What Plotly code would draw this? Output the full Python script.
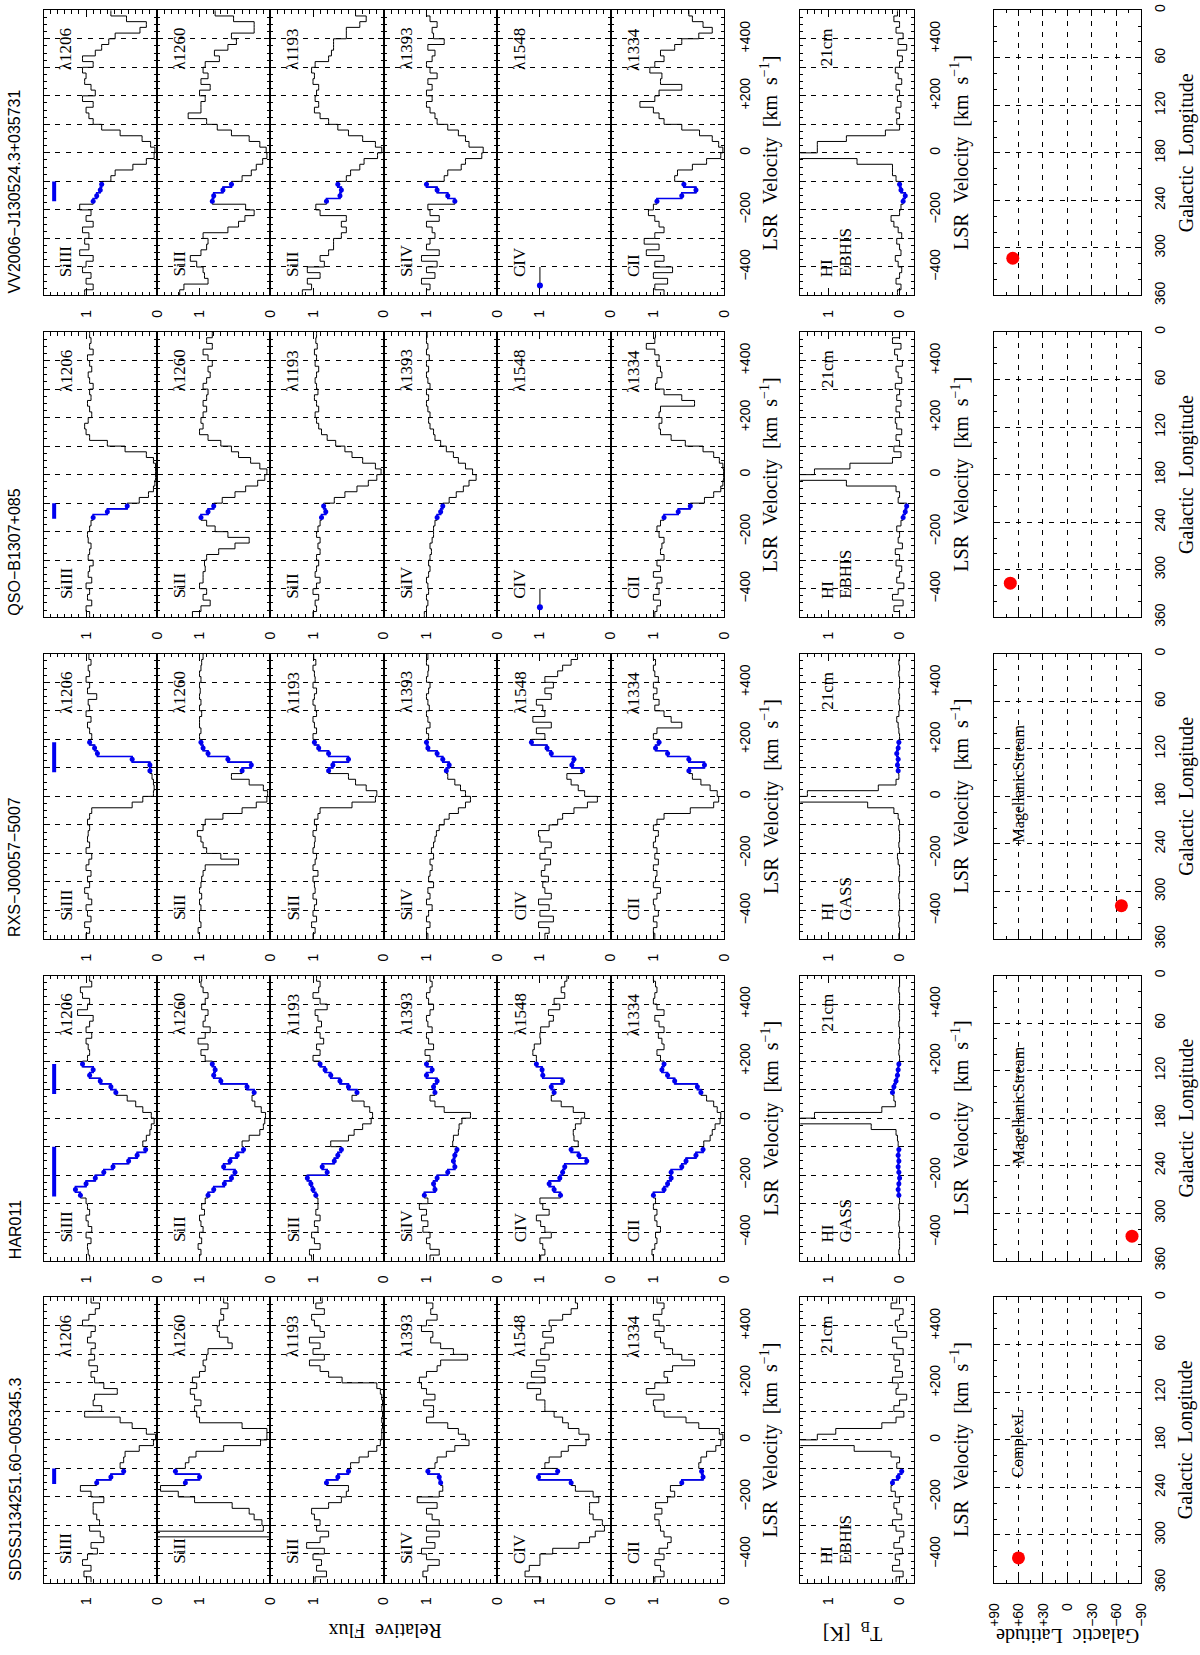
import plotly.graph_objects as go

W, H = 1200, 1655

# ---------------- data ----------------
sightlines = ["VV2006\u2212J130524.3+035731", "QSO\u2212B1307+085", "RXS\u2212J00057\u22125007",
              "HAR011", "SDSSJ134251.60\u2212005345.3"]
ion_labels = ["SiIII", "SiII", "SiII", "SiIV", "CIV", "CII"]
wave_labels = ["\u03bb1206", "\u03bb1260", "\u03bb1193", "\u03bb1393", "\u03bb1548", "\u03bb1334"]
hi_survey = ["EBHIS", "EBHIS", "GASS", "GASS", "EBHIS"]
map_label = ["", "", "MagellanicStream", "MagellanicStream", "ComplexL"]
map_label_l = [None, None, 163, 163, 184]
map_label_b = 60
gal_l = [313, 317, 318, 329, 329]
gal_b = [67, 70, -66, -79, 60]
blue_ranges = [[(-170, -100)], [(-155, -100)], [(85, 190)], [(85, 190), (-275, -100)], [(-155, -100)]]
bar_flux = 1.45
civ_flag = [True, True, False, False, False]
civ_flag_v = [-465, -400]
civ_flag_f = [1.0, 1.0]

velocity = [-490, -470, -450, -430, -410, -390, -370, -350, -330, -310,
            -290, -270, -250, -230, -210, -190, -170, -150, -130, -110,
            -90, -70, -50, -30, -10, 10, 30, 50, 70, 90,
            110, 130, 150, 170, 190, 210, 230, 250, 270, 290,
            310, 330, 350, 370, 390, 410, 430, 450, 470, 490]

vel_ticks = [-400, -300, -200, -100, 0, 100, 200, 300, 400]
vel_ticktext = ["\u2212400", " ", "\u2212200", " ", "0", " ", "+200", " ", "+400"]
lon_ticks = [0, 60, 120, 180, 240, 300, 360]
lon_ticktext = ["0", "60", "120", "180", "240", "300", "360"]
lat_ticks = [90, 60, 30, 0, -30, -60, -90]
lat_ticktext = ["+90", "+60", "+30", "0", "\u221230", "\u221260", "\u221290"]

# VV2006-J130524.3+035731
VV_SiIII = [1.02, 0.9, 1.0, 0.93, 1.05, 1.0, 0.9, 1.09, 0.96, 1.02,
            0.96, 1.05, 0.9, 1.0, 0.93, 1.09, 0.9, 0.85, 0.8, 0.78,
            0.65, 0.59, 0.34, 0.15, 0.04, 0.03, 0.09, 0.21, 0.52, 0.78,
            0.9, 0.96, 1.0, 0.9, 1.05, 0.87, 0.93, 1.02, 1.0, 1.05,
            0.9, 1.05, 0.87, 0.78, 0.68, 0.59, 0.24, 0.15, 0.43, 0.65]
VV_SiII1260 = [1.28, 1.22, 0.88, 0.93, 0.95, 1.04, 1.13, 0.98, 0.9, 0.88,
               0.95, 0.6, 0.45, 0.36, 0.23, 0.35, 0.82, 0.8, 0.67, 0.55,
               0.4, 0.27, 0.2, 0.11, 0.05, 0.06, 0.15, 0.3, 0.55, 0.75,
               0.9, 1.16, 0.98, 0.98, 0.92, 1.0, 0.85, 0.98, 0.88, 0.95,
               0.92, 0.72, 0.79, 0.6, 0.48, 0.55, 0.23, 0.23, 0.52, 0.78]
VV_SiII1193 = [1.15, 1.02, 1.08, 0.9, 1.08, 0.84, 0.9, 0.78, 0.71, 0.71,
               0.6, 0.53, 0.6, 0.53, 0.9, 0.96, 0.81, 0.62, 0.6, 0.65,
               0.53, 0.47, 0.34, 0.28, 0.09, 0.03, 0.12, 0.3, 0.5, 0.65,
               0.78, 0.9, 0.98, 0.92, 0.97, 0.95, 0.92, 1.0, 0.98, 1.02,
               0.97, 0.78, 0.74, 0.71, 0.71, 0.53, 0.53, 0.34, 0.25, 0.4]
VV_SiIV = [1.0, 0.95, 1.07, 0.88, 1.0, 0.85, 1.07, 0.82, 1.0, 0.95,
           0.88, 0.92, 1.0, 0.82, 0.95, 0.98, 0.6, 0.7, 0.85, 1.0,
           0.75, 0.7, 0.51, 0.45, 0.22, 0.2, 0.4, 0.45, 0.55, 0.7,
           0.85, 0.88, 0.95, 1.0, 0.92, 1.0, 0.92, 0.98, 0.85, 0.95,
           1.0, 0.92, 0.88, 0.98, 0.75, 0.9, 0.92, 0.85, 0.95, 1.0]
VV_CIV = None
VV_CII = [0.85, 0.98, 0.8, 1.0, 0.73, 0.98, 0.85, 1.1, 0.92, 1.13,
          0.98, 0.85, 0.92, 0.98, 1.07, 1.0, 0.95, 0.6, 0.4, 0.57,
          0.7, 0.66, 0.45, 0.25, 0.05, 0.02, 0.08, 0.17, 0.35, 0.6,
          0.85, 0.92, 1.0, 1.19, 0.98, 0.92, 0.6, 0.9, 0.88, 1.05,
          0.98, 0.85, 0.9, 0.7, 0.6, 0.36, 0.17, 0.3, 0.45, 0.5]
VV_HI = [0.03, -0.02, 0.05, 0.0, -0.03, 0.02, 0.06, -0.02, 0.0, 0.04,
         -0.03, 0.02, 0.08, 0.12, 0.0, -0.02, -0.05, -0.08, -0.02, 0.0,
         0.05, 0.1, 0.1, 0.6, 5.0, 1.16, 1.16, 0.75, 0.2, 0.0,
         0.04, 0.0, 0.05, -0.02, 0.03, 0.0, 0.05, -0.03, 0.02, 0.06,
         0.0, -0.04, 0.03, -0.1, 0.02, -0.05, 0.05, 0.0, 0.08, 0.03]

# QSO-B1307+085
QSO_SiIII = [0.95, 1.0, 0.92, 0.98, 0.95, 1.0, 0.92, 0.97, 0.95, 0.9,
             0.97, 0.95, 0.93, 0.97, 0.98, 0.95, 0.93, 0.9, 0.7, 0.42,
             0.25, 0.12, 0.05, 0.03, 0.02, 0.02, 0.02, 0.05, 0.15, 0.45,
             0.7, 0.95, 1.0, 1.02, 0.97, 0.92, 0.95, 0.98, 0.93, 0.95,
             0.9, 0.95, 0.97, 0.92, 0.95, 0.98, 0.9, 0.95, 0.93, 0.95]
QSO_SiII1260 = [1.1, 0.98, 0.85, 0.95, 0.9, 1.0, 0.95, 0.95, 0.92, 0.93,
                0.9, 0.73, 0.5, 0.3, 0.6, 0.78, 0.9, 0.98, 0.88, 0.8,
                0.68, 0.5, 0.35, 0.18, 0.08, 0.05, 0.15, 0.28, 0.45, 0.55,
                0.7, 0.88, 1.0, 0.95, 0.98, 0.95, 0.9, 0.95, 0.9, 0.88,
                0.95, 0.9, 0.85, 0.88, 0.82, 0.88, 0.95, 0.82, 0.9, 0.82]
QSO_SiII1193 = [1.0, 0.95, 0.97, 0.92, 1.0, 0.95, 0.9, 0.97, 0.95, 0.92,
                0.95, 0.9, 0.93, 0.9, 0.95, 0.93, 0.9, 0.88, 0.82, 0.85,
                0.7, 0.55, 0.38, 0.22, 0.1, 0.04, 0.12, 0.3, 0.45, 0.55,
                0.68, 0.8, 0.88, 0.92, 0.95, 0.97, 0.92, 0.95, 0.98, 0.93,
                0.95, 0.97, 0.95, 0.92, 0.97, 0.95, 0.98, 0.94, 0.96, 0.95]
QSO_SiIV = [1.03, 1.0, 0.98, 1.0, 0.97, 0.98, 1.0, 0.97, 0.95, 0.97,
            0.95, 0.93, 0.95, 0.92, 0.9, 0.9, 0.88, 0.85, 0.8, 0.77,
            0.68, 0.58, 0.48, 0.4, 0.3, 0.35, 0.45, 0.55, 0.62, 0.72,
            0.8, 0.88, 0.9, 0.95, 0.97, 0.95, 0.98, 1.0, 0.97, 1.0,
            0.95, 0.98, 1.0, 0.97, 1.0, 0.96, 1.0, 0.98, 1.0, 0.99]
QSO_CIV = None
QSO_CII = [0.98, 0.95, 0.9, 1.0, 0.92, 0.95, 0.88, 1.0, 0.9, 0.95,
           0.85, 0.9, 0.88, 0.85, 0.92, 0.95, 0.9, 0.85, 0.65, 0.48,
           0.28, 0.15, 0.05, 0.02, 0.01, 0.01, 0.02, 0.07, 0.15, 0.3,
           0.55, 0.75, 0.9, 0.92, 0.88, 0.92, 0.9, 0.42, 0.6, 0.85,
           0.97, 0.95, 0.88, 0.9, 0.95, 0.92, 0.98, 1.1, 0.98, 0.97]
QSO_HI = [0.0, 0.08, -0.05, 0.1, 0.02, -0.06, 0.04, 0.0, -0.03, 0.05,
          0.0, 0.06, -0.04, 0.02, 0.0, 0.04, -0.02, -0.05, -0.08, -0.1,
          0.02, 0.0, 0.05, 0.75, 5.0, 1.2, 0.7, 0.1, -0.02, 0.08,
          0.0, 0.05, -0.03, 0.04, 0.06, 0.0, 0.05, -0.02, 0.04, 0.0,
          0.06, -0.03, 0.02, 0.05, -0.04, 0.03, 0.07, -0.02, 0.1, 0.0]

# RXS-J00057-5007
RXS_SiIII = [1.0, 0.95, 1.02, 0.93, 0.98, 1.0, 0.92, 0.97, 1.02, 0.95,
             0.98, 0.93, 1.0, 0.96, 0.92, 1.0, 0.95, 0.98, 0.97, 0.95,
             0.98, 0.95, 0.92, 0.35, 0.2, 0.05, 0.04, 0.05, 0.07, 0.1,
             0.1, 0.35, 0.84, 0.88, 0.95, 0.92, 0.95, 0.98, 0.93, 1.0,
             0.95, 0.97, 0.85, 0.98, 0.95, 1.0, 0.95, 0.97, 0.93, 0.96]
RXS_SiII1260 = [1.0, 1.02, 0.98, 1.0, 1.0, 0.98, 1.0, 0.97, 1.0, 0.98,
                0.97, 0.95, 0.92, 0.45, 0.7, 0.9, 0.95, 0.98, 1.03, 0.95,
                0.92, 0.67, 0.4, 0.2, 0.05, 0.04, 0.1, 0.3, 0.55, 0.4,
                0.27, 0.6, 0.88, 0.95, 0.98, 1.0, 0.98, 1.0, 1.0, 0.97,
                1.0, 0.98, 1.0, 0.99, 1.0, 0.98, 1.0, 0.98, 0.97, 0.95]
RXS_SiII1193 = [1.0, 0.97, 1.02, 0.95, 1.0, 0.98, 0.95, 1.0, 0.97, 0.98,
                1.0, 0.93, 1.0, 0.97, 0.95, 1.0, 0.98, 0.97, 1.0, 0.95,
                0.98, 0.93, 0.9, 0.45, 0.12, 0.1, 0.25, 0.4, 0.5, 0.78,
                0.72, 0.5, 0.78, 0.92, 0.98, 1.0, 0.95, 0.98, 1.0, 0.95,
                0.97, 1.0, 0.98, 0.95, 1.0, 0.97, 0.98, 1.0, 0.96, 0.99]
RXS_SiIV = [0.98, 1.0, 0.95, 1.0, 0.97, 0.92, 1.0, 0.95, 0.98, 0.9,
            0.97, 0.95, 0.92, 0.95, 0.9, 0.93, 0.9, 0.88, 0.86, 0.82,
            0.75, 0.68, 0.55, 0.45, 0.38, 0.45, 0.52, 0.6, 0.7, 0.72,
            0.68, 0.77, 0.85, 0.98, 1.0, 0.97, 1.0, 0.95, 0.98, 1.0,
            0.96, 0.98, 1.0, 0.97, 0.95, 1.0, 0.98, 0.97, 1.0, 0.98]
RXS_CIV = [0.93, 0.87, 1.02, 0.81, 1.0, 0.87, 1.02, 0.84, 0.93, 0.96,
           0.88, 0.98, 0.93, 0.85, 1.0, 0.93, 0.84, 1.0, 1.02, 0.87,
           0.75, 0.68, 0.52, 0.33, 0.19, 0.37, 0.46, 0.56, 0.62, 0.4,
           0.55, 0.52, 0.84, 0.9, 1.12, 0.93, 1.05, 0.84, 1.1, 0.93,
           0.96, 1.05, 0.84, 0.93, 0.81, 0.93, 0.75, 0.68, 0.56, 0.47]
RXS_CII = [0.98, 1.0, 0.95, 1.0, 0.93, 0.98, 1.0, 0.95, 0.9, 1.0,
           0.97, 0.95, 1.0, 0.93, 0.98, 0.95, 1.0, 0.97, 0.93, 1.0,
           0.95, 0.85, 0.48, 0.15, 0.08, 0.1, 0.2, 0.33, 0.45, 0.5,
           0.28, 0.5, 0.8, 0.97, 0.92, 1.0, 0.95, 0.6, 0.75, 0.85,
           0.98, 0.92, 1.0, 0.95, 1.0, 0.93, 0.98, 1.0, 0.97, 1.0]
RXS_HI = [0.01, 0.0, 0.01, 0.0, 0.01, 0.0, 0.0, 0.01, 0.0, 0.0,
          0.01, 0.0, 0.0, 0.02, 0.03, 0.0, 0.01, 0.0, 0.0, 0.01,
          0.0, 0.02, 0.08, 0.45, 5.0, 1.3, 0.3, 0.05, 0.01, 0.02,
          0.03, 0.02, 0.04, 0.02, 0.01, 0.0, 0.01, 0.02, 0.04, 0.01,
          0.0, 0.01, 0.0, 0.01, 0.0, 0.0, 0.01, 0.0, 0.01, 0.0]

# HAR011
HAR_SiIII = [0.95, 0.97, 0.98, 0.93, 1.0, 0.92, 0.97, 1.0, 0.95, 0.98,
             1.0, 1.08, 1.15, 1.0, 0.87, 0.75, 0.62, 0.4, 0.28, 0.16,
             0.2, 0.15, 0.1, 0.08, 0.04, 0.08, 0.2, 0.3, 0.42, 0.58,
             0.65, 0.8, 0.95, 0.9, 1.05, 0.98, 0.95, 0.97, 1.0, 0.92,
             1.0, 0.95, 0.9, 1.12, 0.98, 0.95, 1.05, 1.08, 0.92, 0.95]
HAR_SiII1260 = [1.0, 0.98, 1.02, 0.97, 1.0, 0.95, 0.98, 1.0, 0.93, 0.97,
                0.92, 0.88, 0.8, 0.65, 0.55, 0.5, 0.66, 0.57, 0.47, 0.38,
                0.4, 0.3, 0.15, 0.1, 0.08, 0.07, 0.13, 0.22, 0.26, 0.23,
                0.33, 0.7, 0.8, 0.78, 0.82, 0.92, 0.98, 0.88, 1.02, 0.92,
                0.85, 0.95, 0.92, 0.88, 0.97, 0.92, 0.88, 0.95, 0.98, 0.97]
HAR_SiII1193 = [1.02, 1.05, 0.9, 0.98, 1.02, 0.93, 0.98, 0.9, 0.96, 0.93,
                0.93, 0.96, 1.0, 1.03, 1.08, 0.8, 0.87, 0.7, 0.65, 0.6,
                0.75, 0.5, 0.42, 0.3, 0.18, 0.16, 0.2, 0.28, 0.45, 0.38,
                0.5, 0.62, 0.75, 0.83, 0.9, 1.0, 0.9, 0.95, 0.85, 0.9,
                0.95, 0.88, 0.93, 0.97, 0.8, 0.9, 1.0, 0.92, 0.9, 0.95]
HAR_SiIV = [0.95, 0.82, 0.95, 1.0, 0.95, 1.05, 0.98, 1.07, 1.0, 1.1,
            0.98, 1.03, 0.88, 0.9, 0.85, 0.7, 0.6, 0.62, 0.6, 0.57,
            0.63, 0.62, 0.55, 0.54, 0.5, 0.38, 0.75, 0.88, 0.95, 0.88,
            0.9, 0.85, 1.0, 0.92, 1.0, 0.95, 1.02, 0.9, 0.97, 1.0,
            0.92, 0.98, 1.0, 0.95, 0.9, 0.97, 1.0, 0.95, 0.92, 0.95]
HAR_CIV = [0.99, 0.93, 0.96, 1.0, 0.84, 0.93, 0.99, 1.05, 0.87, 0.96,
           1.0, 0.71, 0.8, 0.87, 0.72, 0.68, 0.65, 0.34, 0.45, 0.56,
           0.46, 0.52, 0.53, 0.5, 0.42, 0.37, 0.53, 0.7, 0.84, 0.8,
           0.84, 0.68, 0.96, 0.97, 1.05, 1.05, 1.1, 1.08, 0.99, 1.0,
           0.99, 0.87, 0.81, 0.88, 0.72, 0.8, 0.65, 0.7, 0.65, 0.62]
HAR_CII = [1.0, 1.02, 0.98, 0.95, 0.97, 0.9, 0.95, 0.98, 0.95, 1.0,
           0.97, 1.0, 0.85, 0.8, 0.75, 0.75, 0.6, 0.54, 0.4, 0.3,
           0.29, 0.2, 0.17, 0.13, 0.06, 0.05, 0.1, 0.15, 0.25, 0.33,
           0.38, 0.7, 0.8, 0.88, 0.85, 0.9, 0.95, 0.85, 0.88, 0.93,
           0.85, 0.92, 0.98, 0.85, 0.95, 1.0, 0.98, 0.95, 0.97, 1.0]
HAR_HI = [0.0, 0.01, 0.0, 0.0, 0.01, 0.0, 0.01, 0.0, 0.0, 0.01,
          0.0, 0.01, 0.02, 0.01, 0.0, 0.01, 0.02, 0.01, 0.02, 0.01,
          0.02, 0.03, 0.05, 0.4, 5.0, 1.2, 0.25, 0.06, 0.08, 0.1,
          0.08, 0.05, 0.03, 0.02, 0.01, 0.0, 0.01, 0.0, 0.01, 0.0,
          0.0, 0.01, 0.0, 0.0, 0.01, 0.0, 0.0, 0.01, 0.0, 0.0]

# SDSSJ134251.60-005345.3
SDSS_SiIII = [0.93, 1.03, 0.93, 1.05, 0.98, 0.84, 0.93, 0.75, 0.8, 0.95,
              0.81, 0.85, 0.9, 0.9, 0.75, 0.93, 1.08, 0.85, 0.65, 0.47,
              0.52, 0.47, 0.45, 0.25, 0.05, 0.02, 0.15, 0.35, 0.52, 1.02,
              0.78, 0.9, 0.88, 0.56, 0.75, 0.88, 0.93, 0.84, 0.96, 0.88,
              0.93, 0.87, 0.98, 0.93, 0.87, 1.05, 0.96, 0.87, 0.81, 0.93]
SDSS_SiII1260 = [-0.5, -0.5, -0.5, -0.5, -0.5, -0.5, -0.5, -0.5, 3.0, 0.1,
                 0.12, 0.23, 0.3, 0.54, 1.07, 1.3, 1.55, 1.2, 1.0, 1.34,
                 1.2, 1.15, 1.05, 0.66, 0.14, 0.05, 0.05, 0.4, 1.0, 1.04,
                 1.07, 0.98, 1.07, 1.13, 1.04, 1.1, 1.0, 0.92, 0.95, 0.9,
                 0.88, 0.54, 0.6, 0.72, 0.75, 0.72, 0.66, 0.7, 0.6, 0.66]
SDSS_SiII1193 = [0.97, 0.81, 0.95, 0.88, 1.0, 0.84, 1.09, 0.9, 0.78, 0.95,
                 0.9, 0.98, 1.02, 0.78, 0.6, 0.53, 0.5, 0.81, 0.65, 0.5,
                 0.47, 0.35, 0.22, 0.1, 0.05, 0.03, 0.03, 0.02, 0.03, 0.02,
                 0.03, 0.02, 0.03, 0.05, 0.1, 0.59, 0.78, 0.9, 1.05, 0.84,
                 1.0, 0.9, 1.05, 0.84, 0.9, 0.98, 1.02, 0.84, 0.96, 0.87]
SDSS_SiIV = [1.0, 1.05, 0.98, 0.82, 1.0, 1.07, 0.88, 1.0, 0.82, 1.0,
             0.82, 0.92, 1.0, 0.85, 1.13, 0.82, 0.77, 0.8, 0.82, 0.98,
             0.88, 0.85, 0.72, 0.6, 0.4, 0.45, 0.55, 0.7, 1.0, 0.9,
             0.9, 1.04, 0.88, 1.0, 1.07, 1.1, 1.0, 0.85, 0.8, 0.42,
             0.62, 0.8, 0.94, 0.91, 1.07, 1.0, 0.85, 0.94, 0.91, 1.0]
SDSS_CIV = [0.99, 1.21, 1.15, 1.0, 1.0, 0.82, 0.45, 0.3, 0.22, 0.09,
            0.12, 0.25, 0.3, 0.3, 0.17, 0.25, 0.5, 0.56, 1.02, 0.75,
            0.93, 0.87, 0.7, 0.6, 0.35, 0.31, 0.45, 0.6, 0.68, 0.8,
            0.93, 0.93, 1.05, 0.99, 1.18, 0.93, 1.12, 0.93, 1.05, 0.87,
            0.99, 0.93, 0.81, 0.96, 0.84, 0.87, 0.68, 0.56, 0.47, 0.5]
SDSS_CII = [0.98, 0.85, 0.9, 0.98, 0.85, 0.92, 0.8, 0.75, 0.85, 0.9,
            0.92, 0.98, 0.88, 0.97, 0.8, 0.7, 0.76, 0.6, 0.3, 0.32,
            0.36, 0.33, 0.25, 0.12, 0.05, 0.02, 0.07, 0.36, 0.54, 0.85,
            0.98, 1.0, 0.85, 1.1, 0.98, 0.8, 0.85, 0.73, 0.42, 0.6,
            0.73, 0.85, 0.9, 0.98, 0.85, 0.92, 1.0, 0.88, 0.85, 0.95]
SDSS_HI = [0.05, -0.05, 0.1, 0.0, 0.06, -0.04, 0.08, 0.0, -0.06, 0.05,
           0.1, -0.03, 0.04, 0.08, 0.0, 0.06, 0.12, 0.1, 0.02, -0.03,
           0.04, 0.0, 0.12, 0.64, 5.0, 1.16, 0.9, 0.25, 0.05, -0.06,
           0.08, 0.0, -0.1, 0.05, 0.02, 0.1, -0.04, 0.06, 0.0, 0.08,
           -0.05, 0.04, 0.1, -0.1, 0.03, 0.06, 0.0, -0.05, 0.12, 0.04]

spectra = [
    [VV_SiIII, VV_SiII1260, VV_SiII1193, VV_SiIV, VV_CIV, VV_CII],
    [QSO_SiIII, QSO_SiII1260, QSO_SiII1193, QSO_SiIV, QSO_CIV, QSO_CII],
    [RXS_SiIII, RXS_SiII1260, RXS_SiII1193, RXS_SiIV, RXS_CIV, RXS_CII],
    [HAR_SiIII, HAR_SiII1260, HAR_SiII1193, HAR_SiIV, HAR_CIV, HAR_CII],
    [SDSS_SiIII, SDSS_SiII1260, SDSS_SiII1193, SDSS_SiIV, SDSS_CIV, SDSS_CII],
]
hi_spectra = [VV_HI, QSO_HI, RXS_HI, HAR_HI, SDSS_HI]

# ---------------- geometry (pixels) ----------------
STRIP_TOP = [4.3 + 324.9 * s for s in range(5)]
STRIP_H = 288.0
ABS_X0, ABS_W = 36.0, 115.0
HI_X = (803.0, 918.0)
MAP_X = (999.3, 1148.3)

SANS = "Liberation Sans"
SERIF = "Liberation Serif"
BLUE = "#0000f0"
SP = "\u00a0\u00a0"


def px(x):
    return x / W


def py(y):
    return 1 - y / H


fig = go.Figure()
layout = {}
annotations = []

axis_common = dict(showline=True, linecolor="black", linewidth=1, mirror="allticks",
                   ticks="inside", tickcolor="black", tickwidth=1, zeroline=False,
                   fixedrange=True, showgrid=False,
                   tickfont=dict(family=SANS, size=14, color="black"))


def vel_axis(dom, show_labels):
    d = dict(axis_common)
    d.update(domain=dom, range=[-500, 500], tickmode="array", tickvals=vel_ticks,
             ticktext=vel_ticktext, ticklen=6, showgrid=True, gridcolor="black",
             gridwidth=1, griddash="5px,6px", showticklabels=show_labels, side="right",
             tickangle=-90, ticklabelstandoff=8,
             minor=dict(ticks="inside", ticklen=3, tickcolor="black", dtick=25, tick0=0,
                        showgrid=False))
    return d


def strip_line(xs_flux, ys_vel):
    return [xs_flux[0]] + list(xs_flux) + [xs_flux[-1]], [-500] + list(ys_vel) + [500]


idx = 0
for s in range(5):
    top = STRIP_TOP[s]
    bot = top + STRIP_H
    ydom = [py(bot), py(top)]
    # ---- absorption panels
    for k in range(6):
        idx += 1
        xa = "xaxis" if idx == 1 else f"xaxis{idx}"
        ya = "yaxis" if idx == 1 else f"yaxis{idx}"
        xr = "x" if idx == 1 else f"x{idx}"
        yr = "y" if idx == 1 else f"y{idx}"
        x0 = ABS_X0 + ABS_W * k
        d = dict(axis_common)
        d.update(domain=[px(x0), px(x0 + ABS_W)], range=[1.6, 0], anchor=yr,
                 tickmode="array", tickvals=[0, 1], ticktext=["0", "1"], ticklen=7,
                 tickangle=-90, ticklabelstandoff=8,
                 minor=dict(ticks="inside", ticklen=3.5, tickcolor="black", dtick=0.1,
                            tick0=0, showgrid=False))
        layout[xa] = d
        yd = vel_axis(ydom, k == 5)
        yd["anchor"] = xr
        layout[ya] = yd

        f = spectra[s][k]
        if f is not None:
            xs, ys = strip_line(f, velocity)
            fig.add_trace(go.Scatter(x=xs, y=ys, xaxis=xr, yaxis=yr, mode="lines",
                                     line=dict(color="black", width=1, shape="vhv"),
                                     hoverinfo="skip", showlegend=False))
            for (lo, hi) in blue_ranges[s]:
                bx = [f[i] for i in range(len(velocity)) if lo <= velocity[i] <= hi]
                by = [v for v in velocity if lo <= v <= hi]
                fig.add_trace(go.Scatter(x=bx, y=by, xaxis=xr, yaxis=yr, mode="lines+markers",
                                         line=dict(color=BLUE, width=1.6, shape="vhv"),
                                         marker=dict(color=BLUE, size=5),
                                         hoverinfo="skip", showlegend=False))
        elif civ_flag[s]:
            fig.add_trace(go.Scatter(x=civ_flag_f, y=civ_flag_v, xaxis=xr, yaxis=yr, mode="lines",
                                     line=dict(color="black", width=1), hoverinfo="skip",
                                     showlegend=False))
            fig.add_trace(go.Scatter(x=civ_flag_f[:1], y=civ_flag_v[:1], xaxis=xr, yaxis=yr,
                                     mode="markers", marker=dict(color=BLUE, size=6),
                                     hoverinfo="skip", showlegend=False))
        if k == 0:
            for (lo, hi) in blue_ranges[s]:
                fig.add_trace(go.Scatter(x=[bar_flux, bar_flux], y=[lo, hi], xaxis=xr, yaxis=yr,
                                         mode="lines", line=dict(color=BLUE, width=4),
                                         hoverinfo="skip", showlegend=False))
        annotations.append(dict(text=ion_labels[k], xref=xr, yref=yr, x=1.28, y=-442,
                                xanchor="center", yanchor="bottom", textangle=-90,
                                showarrow=False, font=dict(family=SERIF, size=17, color="black")))
        annotations.append(dict(text=wave_labels[k], xref=xr, yref=yr, x=1.28, y=445,
                                xanchor="center", yanchor="top", textangle=-90,
                                showarrow=False, font=dict(family=SERIF, size=17, color="black")))

    # ---- HI panel
    idx += 1
    xa, ya, xr, yr = f"xaxis{idx}", f"yaxis{idx}", f"x{idx}", f"y{idx}"
    d = dict(axis_common)
    d.update(domain=[px(HI_X[0]), px(HI_X[1])], range=[1.4, -0.2], anchor=yr,
             tickmode="array", tickvals=[0, 1], ticktext=["0", "1"], ticklen=7,
             tickangle=-90, ticklabelstandoff=8,
             minor=dict(ticks="inside", ticklen=3.5, tickcolor="black", dtick=0.1, tick0=0,
                        showgrid=False))
    layout[xa] = d
    yd = vel_axis(ydom, True)
    yd["anchor"] = xr
    layout[ya] = yd
    hf = hi_spectra[s]
    xs, ys = strip_line(hf, velocity)
    fig.add_trace(go.Scatter(x=xs, y=ys, xaxis=xr, yaxis=yr, mode="lines",
                             line=dict(color="black", width=1, shape="vhv"),
                             hoverinfo="skip", showlegend=False))
    for (lo, hi) in blue_ranges[s]:
        bx = [hf[i] for i in range(len(velocity)) if lo <= velocity[i] <= hi]
        by = [v for v in velocity if lo <= v <= hi]
        fig.add_trace(go.Scatter(x=bx, y=by, xaxis=xr, yaxis=yr, mode="lines+markers",
                                 line=dict(color=BLUE, width=1.6, shape="vhv"),
                                 marker=dict(color=BLUE, size=5),
                                 hoverinfo="skip", showlegend=False))
    annotations.append(dict(text="HI", xref=xr, yref=yr, x=1.02, y=-442, xanchor="center",
                            yanchor="bottom", textangle=-90, showarrow=False,
                            font=dict(family=SERIF, size=17, color="black")))
    annotations.append(dict(text=hi_survey[s], xref=xr, yref=yr, x=0.76, y=-442, xanchor="center",
                            yanchor="bottom", textangle=-90, showarrow=False,
                            font=dict(family=SERIF, size=17, color="black")))
    annotations.append(dict(text="21cm", xref=xr, yref=yr, x=1.02, y=445, xanchor="center",
                            yanchor="top", textangle=-90, showarrow=False,
                            font=dict(family=SERIF, size=17, color="black")))

    # ---- map panel
    idx += 1
    xa, ya, xr, yr = f"xaxis{idx}", f"yaxis{idx}", f"x{idx}", f"y{idx}"
    d = dict(axis_common)
    d.update(domain=[px(MAP_X[0]), px(MAP_X[1])], range=[90, -90], anchor=yr,
             tickmode="array", tickvals=lat_ticks, ticktext=lat_ticktext, ticklen=6,
             tickangle=-90, ticklabelstandoff=14, showticklabels=(s == 4),
             showgrid=True, gridcolor="black", gridwidth=1, griddash="5px,6px",
             minor=dict(ticks="inside", ticklen=3, tickcolor="black", dtick=15, tick0=0,
                        showgrid=False))
    layout[xa] = d
    d = dict(axis_common)
    d.update(domain=ydom, range=[360, 0], anchor=xr, side="right",
             tickmode="array", tickvals=lon_ticks, ticktext=lon_ticktext, ticklen=6,
             tickangle=-90, ticklabelstandoff=6,
             showgrid=True, gridcolor="black", gridwidth=1, griddash="5px,6px",
             minor=dict(ticks="inside", ticklen=3, tickcolor="black", dtick=20, tick0=0,
                        showgrid=False))
    layout[ya] = d
    fig.add_trace(go.Scatter(x=[gal_b[s]], y=[gal_l[s]], xaxis=xr, yaxis=yr, mode="markers",
                             marker=dict(color="red", size=13), hoverinfo="skip",
                             showlegend=False))
    if map_label[s]:
        annotations.append(dict(text=map_label[s], xref=xr, yref=yr, x=map_label_b,
                                y=map_label_l[s], xanchor="center", yanchor="middle",
                                textangle=-90, showarrow=False,
                                font=dict(family=SERIF, size=16, color="black")))

    # ---- strip-level text
    annotations.append(dict(text=sightlines[s], xref="paper", yref="paper", x=px(7), y=py(bot),
                            xanchor="center", yanchor="bottom", textangle=-90, showarrow=False,
                            font=dict(family=SANS, size=16, color="black")))
    mid = py(top + STRIP_H / 2)
    lsr = "LSR" + SP + "Velocity" + SP + "[km" + SP + "s<sup>\u22121</sup>]"
    annotations.append(dict(text=lsr, xref="paper", yref="paper", x=px(772), y=mid,
                            xanchor="center", yanchor="middle", textangle=-90, showarrow=False,
                            font=dict(family=SERIF, size=20, color="black")))
    annotations.append(dict(text=lsr, xref="paper", yref="paper", x=px(965), y=mid,
                            xanchor="center", yanchor="middle", textangle=-90, showarrow=False,
                            font=dict(family=SERIF, size=20, color="black")))
    annotations.append(dict(text="Galactic" + SP + "Longitude", xref="paper", yref="paper",
                            x=px(1208), y=mid, xanchor="right", yanchor="middle",
                            textangle=-90, showarrow=False,
                            font=dict(family=SERIF, size=20, color="black")))

# bottom (upside-down) axis titles
annotations.append(dict(text="Relative" + SP + "Flux", xref="paper", yref="paper", x=px(382),
                        y=py(1627), xanchor="center", yanchor="top", textangle=180,
                        showarrow=False, font=dict(family=SERIF, size=20, color="black")))
annotations.append(dict(text="T<sub>B</sub>" + SP + "[K]", xref="paper", yref="paper", x=px(856),
                        y=py(1627), xanchor="center", yanchor="top", textangle=180,
                        showarrow=False, font=dict(family=SERIF, size=20, color="black")))
annotations.append(dict(text="Galactic" + SP + "Latitude", xref="paper", yref="paper", x=px(1074),
                        y=py(1633), xanchor="center", yanchor="top", textangle=180,
                        showarrow=False, font=dict(family=SERIF, size=20, color="black")))

layout.update(width=W, height=H, margin=dict(l=0, r=0, t=0, b=0),
              paper_bgcolor="white", plot_bgcolor="white", showlegend=False,
              annotations=annotations)
fig.update_layout(**layout)
fig.write_html("out.html", config={"displayModeBar": False},
               post_script="document.body.style.margin='0px';")
